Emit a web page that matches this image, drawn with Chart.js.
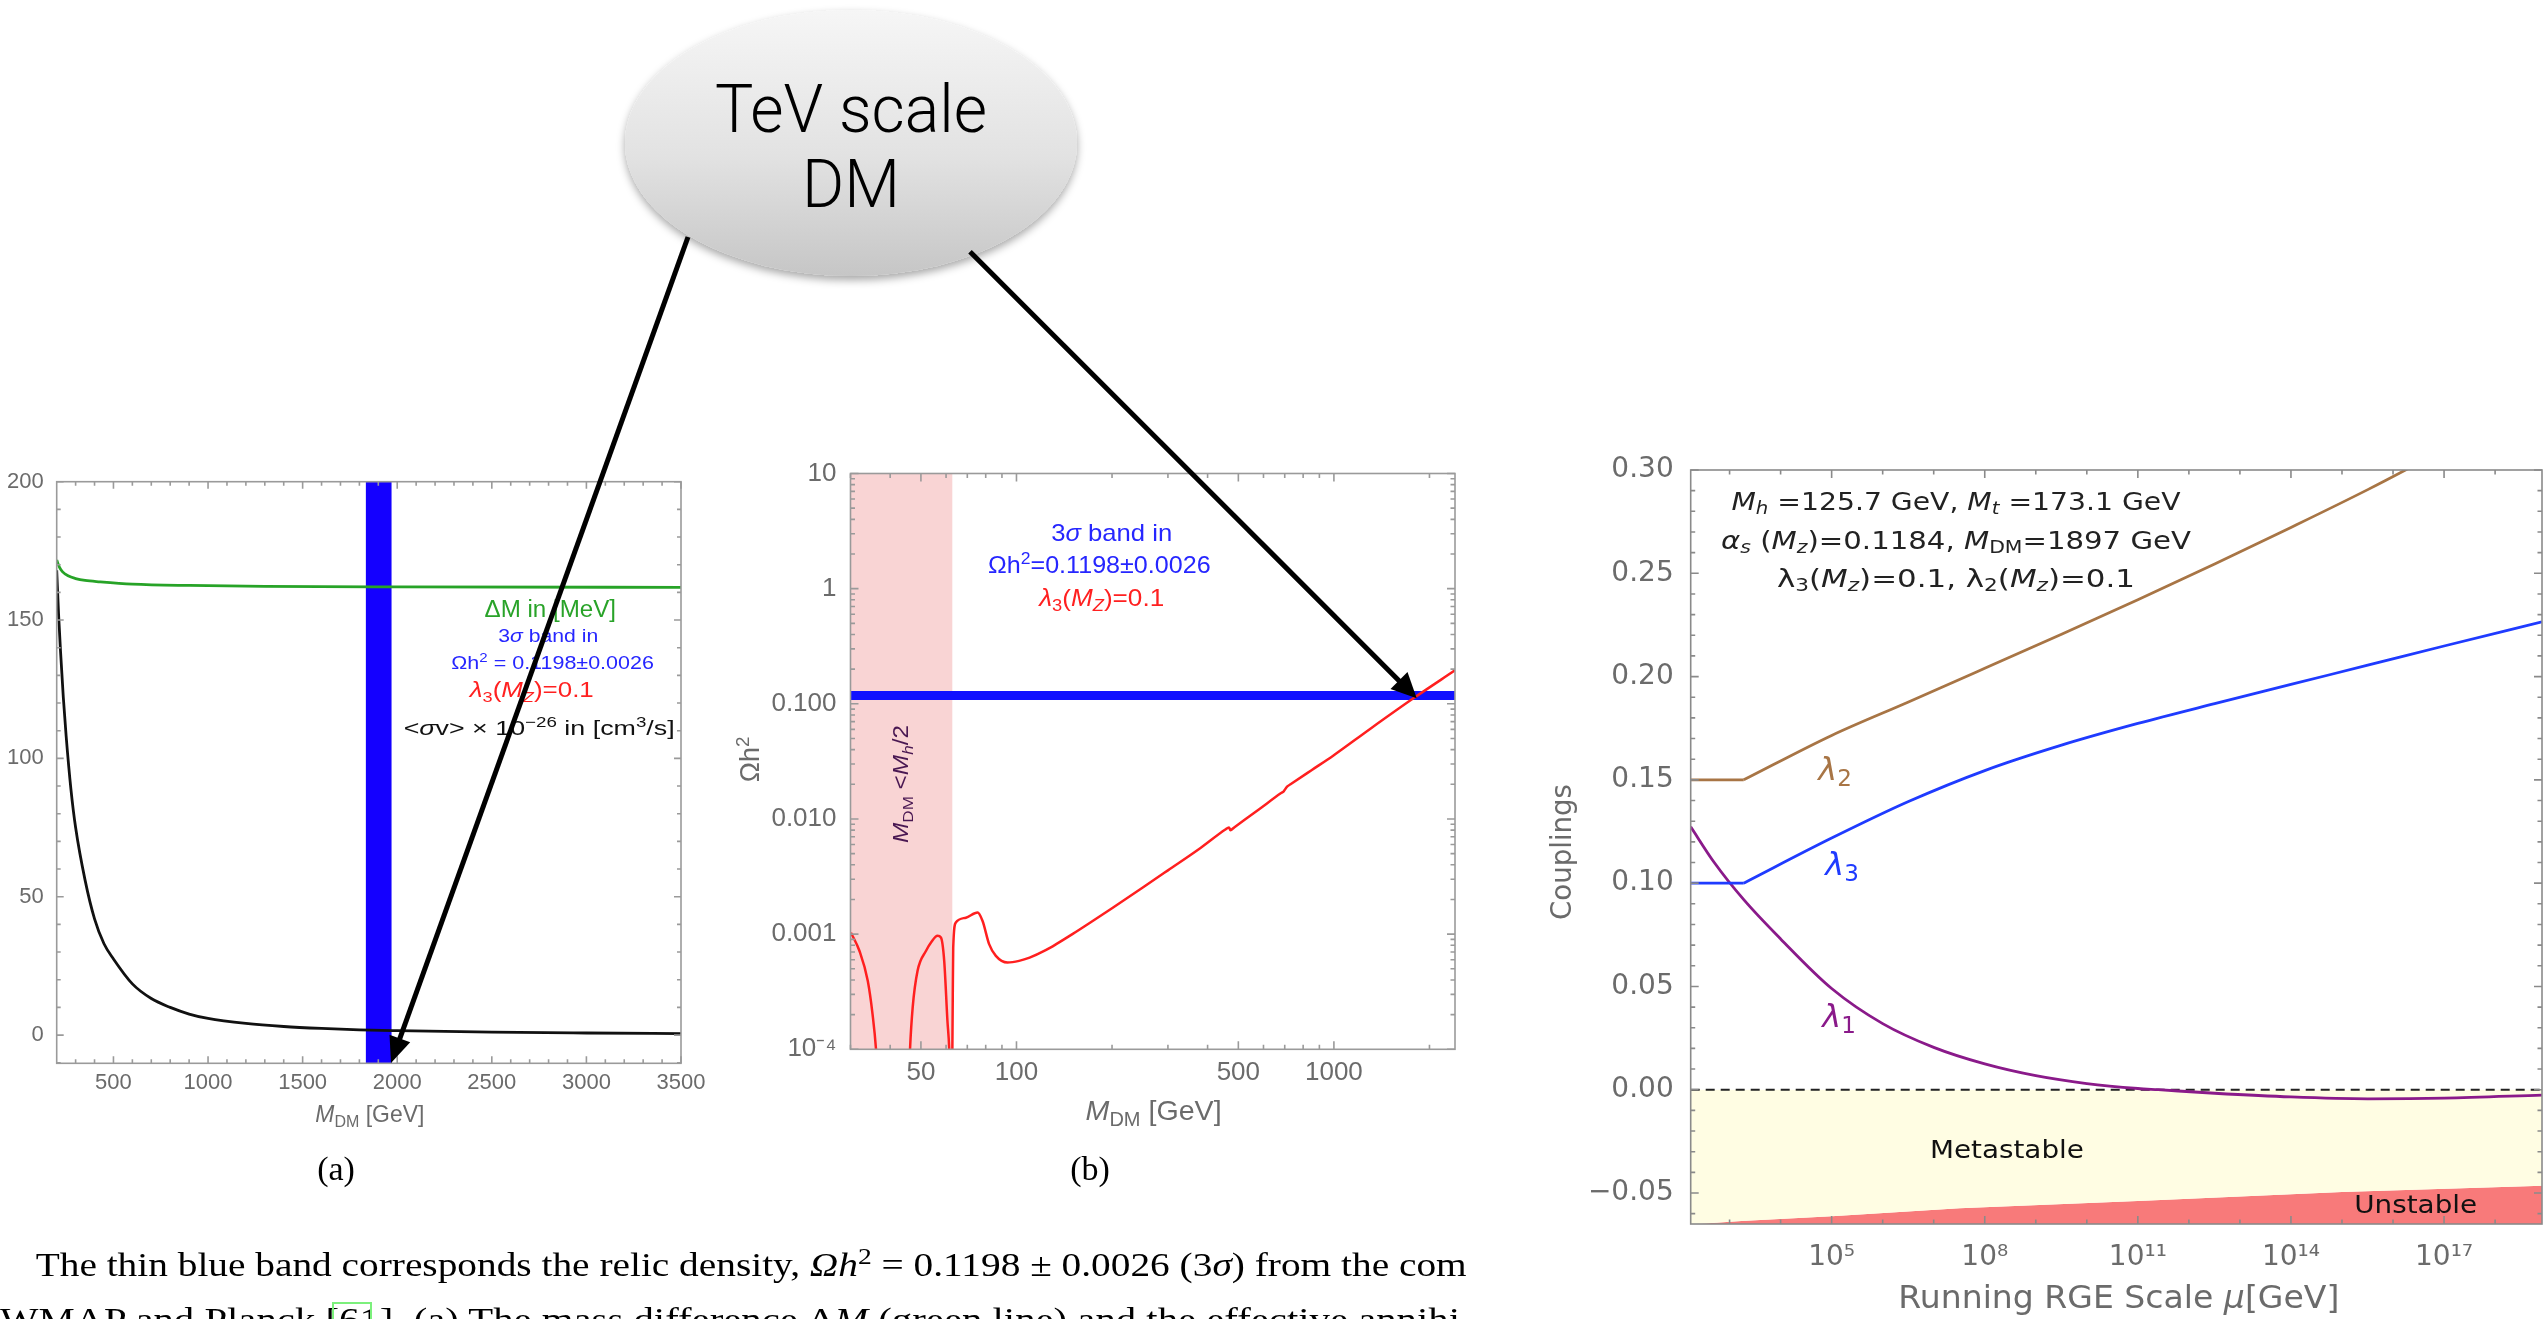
<!DOCTYPE html>
<html>
<head>
<meta charset="utf-8">
<script src="https://cdn.jsdelivr.net/npm/chart.js@4.4.1/dist/chart.umd.min.js"></script>
<style>
  html, body { margin: 0; padding: 0; background: #fff; }
  #page { position: relative; width: 2544px; height: 1319px; overflow: hidden; background: #fff; }
  .layer { position: absolute; left: 0; top: 0; width: 2544px; height: 1319px; }
  #ov { position: absolute; left: 0; top: 0; pointer-events: none; }
  .sa { font-family: "Liberation Sans", Arial, sans-serif; }
  .sc { font-family: "DejaVu Sans", sans-serif; }
  .sf { font-family: "Liberation Serif", "DejaVu Serif", serif; }
  .bub { font-family: Roboto, "Liberation Sans", sans-serif; font-weight: 300; }
</style>
</head>
<body>
<div id="page">
  <div class="layer"><canvas id="chartA"></canvas></div>
  <div class="layer"><canvas id="chartB"></canvas></div>
  <div class="layer"><canvas id="chartC"></canvas></div>

  <svg id="ov" width="2544" height="1319" viewBox="0 0 2544 1319" xmlns="http://www.w3.org/2000/svg">
    <defs>
      <linearGradient id="bubbleFill" x1="0" y1="0" x2="0" y2="1">
        <stop offset="0" stop-color="#f6f6f6"/>
        <stop offset="0.55" stop-color="#e2e2e2"/>
        <stop offset="1" stop-color="#c6c6c6"/>
      </linearGradient>
      <filter id="bubbleShadow" x="-20%" y="-20%" width="140%" height="150%">
        <feDropShadow dx="0" dy="4" stdDeviation="4" flood-color="#000" flood-opacity="0.35"/>
      </filter>
    </defs>

    <!-- callout bubble -->
    <ellipse cx="851" cy="143" rx="226" ry="133" fill="url(#bubbleFill)" filter="url(#bubbleShadow)"/>
    <text class="bub" x="851" y="131.7" font-size="66" text-anchor="middle" textLength="272" lengthAdjust="spacingAndGlyphs" fill="#000">TeV scale</text>
    <text class="bub" x="851" y="206.7" font-size="66" text-anchor="middle" textLength="98" lengthAdjust="spacingAndGlyphs" fill="#000">DM</text>

    <!-- panel (a) labels -->
    <text class="sa" x="369.8" y="1121.6" font-size="24" fill="#6b6b6b" text-anchor="middle" textLength="109" lengthAdjust="spacingAndGlyphs"><tspan font-style="italic">M</tspan><tspan baseline-shift="-5" font-size="70%">DM</tspan> [GeV]</text>
    <text class="sa" x="550.3" y="616.6" font-size="23" fill="#29a329" text-anchor="middle" textLength="131.5" lengthAdjust="spacingAndGlyphs">ΔM in [MeV]</text>
    <text class="sa" x="548.2" y="642.3" font-size="19" fill="#2626ff" text-anchor="middle" textLength="100" lengthAdjust="spacingAndGlyphs">3<tspan font-style="italic">σ</tspan> band in</text>
    <text class="sa" x="552.6" y="669.1" font-size="19" fill="#2626ff" text-anchor="middle" textLength="202.6" lengthAdjust="spacingAndGlyphs">Ωh<tspan baseline-shift="7" font-size="70%">2</tspan> = 0.1198±0.0026</text>
    <text class="sa" x="531.8" y="697" font-size="22" fill="#ff2020" text-anchor="middle" textLength="124" lengthAdjust="spacingAndGlyphs"><tspan font-style="italic">λ</tspan><tspan baseline-shift="-5" font-size="70%">3</tspan>(<tspan font-style="italic">M</tspan><tspan baseline-shift="-5" font-size="70%" font-style="italic">Z</tspan>)=0.1</text>
    <text class="sa" x="539.2" y="734.5" font-size="21" fill="#111" text-anchor="middle" textLength="271" lengthAdjust="spacingAndGlyphs">&lt;<tspan font-style="italic">σ</tspan>v&gt; × 10<tspan baseline-shift="8" font-size="70%">−26</tspan>  in [cm<tspan baseline-shift="8" font-size="70%">3</tspan>/s]</text>

    <!-- panel (b) labels -->
    <text class="sa" transform="translate(749.6,759.3) rotate(-90)" x="0" y="9.7" font-size="27" fill="#6b6b6b" text-anchor="middle">Ωh<tspan baseline-shift="10" font-size="70%">2</tspan></text>
    <text class="sa" x="1153.6" y="1119.8" font-size="28" fill="#6b6b6b" text-anchor="middle" textLength="136" lengthAdjust="spacingAndGlyphs"><tspan font-style="italic">M</tspan><tspan baseline-shift="-6" font-size="70%">DM</tspan> [GeV]</text>
    <text class="sa" x="1111.7" y="540.6" font-size="24" fill="#2626ff" text-anchor="middle" textLength="121" lengthAdjust="spacingAndGlyphs">3<tspan font-style="italic">σ</tspan> band in</text>
    <text class="sa" x="1099.3" y="572.6" font-size="24" fill="#2626ff" text-anchor="middle" textLength="222.6" lengthAdjust="spacingAndGlyphs">Ωh<tspan baseline-shift="9" font-size="70%">2</tspan>=0.1198±0.0026</text>
    <text class="sa" x="1101.7" y="605.6" font-size="24" fill="#ff2020" text-anchor="middle" textLength="125" lengthAdjust="spacingAndGlyphs"><tspan font-style="italic">λ</tspan><tspan baseline-shift="-5" font-size="70%">3</tspan>(<tspan font-style="italic">M</tspan><tspan baseline-shift="-5" font-size="70%" font-style="italic">Z</tspan>)=0.1</text>
    <text class="sa" transform="translate(900.4,784) rotate(-90)" x="0" y="7.9" font-size="22" fill="#4a1852" text-anchor="middle" textLength="118" lengthAdjust="spacingAndGlyphs"><tspan font-style="italic">M</tspan><tspan baseline-shift="-5" font-size="70%">DM</tspan> &lt;<tspan font-style="italic">M</tspan><tspan baseline-shift="-5" font-size="70%" font-style="italic">h</tspan>/2</text>

    <!-- panel (c) labels -->
    <text class="sc" transform="translate(1560.7,852) rotate(-90)" x="0" y="10" font-size="28" fill="#6b6b6b" text-anchor="middle" textLength="136" lengthAdjust="spacingAndGlyphs">Couplings</text>
    <text class="sc" x="2118.8" y="1307.5" font-size="32" fill="#6b6b6b" text-anchor="middle" textLength="441" lengthAdjust="spacingAndGlyphs">Running RGE Scale <tspan font-style="italic">μ</tspan>[GeV]</text>
    <text class="sc" x="1956" y="510.3" font-size="24" fill="#222" text-anchor="middle" textLength="449" lengthAdjust="spacingAndGlyphs"><tspan font-style="italic">M</tspan><tspan baseline-shift="-4" font-size="70%" font-style="italic">h</tspan> =125.7 GeV, <tspan font-style="italic">M</tspan><tspan baseline-shift="-4" font-size="70%" font-style="italic">t</tspan> =173.1 GeV</text>
    <text class="sc" x="1956" y="548.6" font-size="24" fill="#222" text-anchor="middle" textLength="470" lengthAdjust="spacingAndGlyphs"><tspan font-style="italic">α</tspan><tspan baseline-shift="-4" font-size="70%" font-style="italic">s</tspan> (<tspan font-style="italic">M</tspan><tspan baseline-shift="-4" font-size="70%" font-style="italic">z</tspan>)=0.1184, <tspan font-style="italic">M</tspan><tspan baseline-shift="-4" font-size="70%">DM</tspan>=1897 GeV</text>
    <text class="sc" x="1956" y="586.6" font-size="24" fill="#222" text-anchor="middle" textLength="358" lengthAdjust="spacingAndGlyphs">λ<tspan baseline-shift="-4" font-size="70%">3</tspan>(<tspan font-style="italic">M</tspan><tspan baseline-shift="-4" font-size="70%" font-style="italic">z</tspan>)=0.1, λ<tspan baseline-shift="-4" font-size="70%">2</tspan>(<tspan font-style="italic">M</tspan><tspan baseline-shift="-4" font-size="70%" font-style="italic">z</tspan>)=0.1</text>
    <text class="sc" x="1835" y="779.5" font-size="32" fill="#a87545" text-anchor="middle"><tspan font-style="italic">λ</tspan><tspan baseline-shift="-6" font-size="72%">2</tspan></text>
    <text class="sc" x="1842" y="874.5" font-size="32" fill="#1f3bff" text-anchor="middle"><tspan font-style="italic">λ</tspan><tspan baseline-shift="-6" font-size="72%">3</tspan></text>
    <text class="sc" x="1839" y="1026.5" font-size="32" fill="#8a1a8a" text-anchor="middle"><tspan font-style="italic">λ</tspan><tspan baseline-shift="-6" font-size="72%">1</tspan></text>
    <text class="sc" x="2006.9" y="1157.6" font-size="24" fill="#111" text-anchor="middle" textLength="154" lengthAdjust="spacingAndGlyphs">Metastable</text>
    <text class="sc" x="2415.7" y="1212.6" font-size="24" fill="#111" text-anchor="middle" textLength="123" lengthAdjust="spacingAndGlyphs">Unstable</text>

    <!-- sub-figure captions and running text -->
    <text class="sf" x="336" y="1180" font-size="34" fill="#000" text-anchor="middle">(a)</text>
    <text class="sf" x="1090" y="1180" font-size="34" fill="#000" text-anchor="middle">(b)</text>
    <text class="sf" x="35.7" y="1276" font-size="34" fill="#000" textLength="1431" lengthAdjust="spacingAndGlyphs">The thin blue band corresponds the relic density, <tspan font-style="italic">Ωh</tspan><tspan baseline-shift="12" font-size="70%">2</tspan> = 0.1198 ± 0.0026 (3<tspan font-style="italic">σ</tspan>) from the com</text>
    <text class="sf" x="0" y="1331" font-size="34" fill="#000" textLength="1460" lengthAdjust="spacingAndGlyphs">WMAP and Planck [61]. (a) The mass difference Δ<tspan font-style="italic">M</tspan> (green line) and the effective annihi</text>
    <rect x="333" y="1303" width="38" height="30" fill="none" stroke="#7cf07c" stroke-width="2"/>

    <!-- arrows -->
    <g stroke="#000" stroke-width="5" fill="none">
      <line x1="688" y1="237" x2="397.8" y2="1044.2"/>
      <line x1="970" y1="251.7" x2="1403.3" y2="684.9"/>
    </g>
    <polygon points="391,1063 410.2,1042.2 389.5,1034.8" fill="#000"/>
    <polygon points="1416.7,698.3 1390.5,689.1 1407.5,672.1" fill="#000"/>
  </svg>
</div>

<script>
  const W = 2544, H = 1319;

  // ---- (a) <sigma v> x 1e-26 and mass splitting vs M_DM ----
  const aMass = [200, 210, 220, 235, 250, 275, 300, 350, 400, 450, 500, 600, 700, 800, 900, 1000, 1200, 1400, 1600, 1800, 2000, 2500, 3000, 3500];
  const aSigmaV = [168, 152, 139, 122, 108, 89, 75, 56, 42, 33, 27.5, 18.5, 13.2, 10, 7.6, 6, 4.2, 3.1, 2.4, 1.9, 1.6, 1.05, 0.75, 0.55];
  const aMassGreen = [200, 215, 230, 260, 300, 350, 430, 600, 900, 1300, 2000, 3500];
  const aDeltaM = [171.7, 169, 167.5, 166, 165, 164.3, 163.8, 163, 162.5, 162.2, 162, 161.8];
  const aBandMass = [1833, 1971];
  const aXTicks = [500, 1000, 1500, 2000, 2500, 3000, 3500];
  const aYTicks = [0, 50, 100, 150, 200];

  // ---- (b) relic density vs M_DM (null = below the plotted range) ----
  const bMass = [30.1, 32, 34, 35.2, 36.1, 36.6, 40, 45.8, 46.2, 47.1, 48.8, 51.9, 54, 56.4, 57.8, 59.2, 60.6, 61.4, 61.8, 62.2,
    62.7, 63.0, 63.2, 64.4, 69.3, 75.4, 78.2, 82, 86.1, 93.7, 101.9, 110, 123.6, 135, 150, 170, 200, 250, 300, 380, 455, 467,
    472, 485, 580, 680, 695, 712, 730, 850, 997, 1300, 1780, 2407];
  const bOmega = [0.00103, 0.000717, 0.000393, 0.000202, 0.0001, 0.00005, null, 0.00005, 0.0001, 0.000231, 0.00048, 0.000717, 0.00086, 0.000967, 0.000934, 0.000586, 0.000177, 0.0001, 0.00005, null,
    0.00005, 0.0003, 0.000765, 0.00126, 0.00139, 0.00154, 0.0013, 0.000819, 0.000648, 0.000567, 0.000586, 0.000625, 0.000725, 0.000835, 0.00100, 0.00125, 0.00168, 0.00254, 0.00358, 0.0056, 0.0081, 0.00845,
    0.0080, 0.00845, 0.0121, 0.0167, 0.0174, 0.0191, 0.0200, 0.0265, 0.0356, 0.0605, 0.1116, 0.1952];
  const bBand = [0.108, 0.129];
  const bExcluded = [30, 62.9];
  const bXRange = [30, 2407];
  const bXTicks = [50, 100, 500, 1000];
  const bXLabels = ['50', '100', '500', '1000'];
  const bXMinor = [30, 40, 60, 70, 80, 90, 200, 300, 400, 600, 700, 800, 900, 2000];
  const bYTicks = [1e-4, 1e-3, 1e-2, 0.1, 1, 10];
  const bYLabels = ['10⁻⁴', '0.001', '0.010', '0.100', '1', '10'];

  // ---- (c) running couplings (first two points: flat below M_DM) ----
  const cRange = [173.1, 8.3e18];
  const cMuL2 = [173.1, 1897, 1e5, 3.2e6, 1e8, 3.2e9, 1e11, 3.2e12, 1e14, 3.2e15, 2.5e16, 1e17];
  const cLambda2 = [0.150, 0.150, 0.1715, 0.1877, 0.2040, 0.2205, 0.2372, 0.2545, 0.2722, 0.2905, 0.3020, 0.3100];
  const cMuL3 = [173.1, 1897, 1e5, 3.2e6, 1e8, 3.2e9, 1e11, 3.2e12, 1e14, 3.2e15, 1e17, 8.3e18];
  const cLambda3 = [0.100, 0.100, 0.1218, 0.1395, 0.1545, 0.1668, 0.1773, 0.1869, 0.1962, 0.2055, 0.2148, 0.2265];
  const cMuL1 = [173.1, 501, 1897, 1e4, 1e5, 1e6, 1e7, 1e8, 1e9, 1e10, 1e11, 2.5e11, 3.2e12, 1e14, 3.2e15, 1e17, 8.3e18];
  const cLambda1 = [0.1273, 0.1100, 0.0920, 0.0730, 0.0490, 0.0320, 0.0205, 0.0125, 0.0068, 0.0030, 0.0006, 0, -0.0017, -0.0035, -0.0044, -0.0041, -0.0026];
  const cMuStab = [173.1, 1.7e3, 1e5, 3.2e7, 1.3e11, 1e15, 8.3e18];
  const cStab = [-0.0652, -0.0636, -0.0613, -0.0574, -0.0537, -0.0495, -0.0465];
  const cXTicks = [1e5, 1e8, 1e11, 1e14, 1e17];
  const cXLabels = ['10⁵', '10⁸', '10¹¹', '10¹⁴', '10¹⁷'];
  const cXMinor = [1e3, 1e4, 1e6, 1e7, 1e9, 1e10, 1e12, 1e13, 1e15, 1e16, 1e18];
  const cYTicks = [-0.05, 0, 0.05, 0.10, 0.15, 0.20, 0.25, 0.30];
  const cYLabels = ['−0.05', '0.00', '0.05', '0.10', '0.15', '0.20', '0.25', '0.30'];

  const tickGray = '#6b6b6b';

  function pts(xs, ys) {
    return xs.map((x, i) => ({ x: x, y: ys[i] }));
  }

  function range(from, to, step, skip) {
    const out = [];
    for (let v = from; v <= to + step * 1e-6; v += step) {
      const r = +v.toFixed(6);
      if (!skip.some(s => Math.abs(s - r) < step * 1e-3)) out.push(r);
    }
    return out;
  }

  function decadeMinor(d0, d1) {
    const out = [];
    for (let d = d0; d <= d1; d++) for (let k = 2; k <= 9; k++) out.push(k * Math.pow(10, d));
    return out;
  }

  function labelFor(vals, labels) {
    return v => {
      const i = vals.findIndex(t => Math.abs(t - v) <= Math.abs(t) * 1e-6 + 1e-12);
      return i < 0 ? '' : labels[i];
    };
  }

  // frame with inward ticks on all four sides, like the original plots
  const frameTicks = {
    id: 'frameTicks',
    afterDatasetsDraw(chart, args, o) {
      const { ctx, chartArea: a } = chart;
      const sx = chart.scales.x, sy = chart.scales.y;
      ctx.save();
      ctx.strokeStyle = o.color;
      ctx.lineWidth = o.width;
      ctx.beginPath();
      const xt = (vals, len) => vals.forEach(v => {
        const p = sx.getPixelForValue(v);
        if (p < a.left - 0.5 || p > a.right + 0.5) return;
        ctx.moveTo(p, a.bottom); ctx.lineTo(p, a.bottom - len);
        ctx.moveTo(p, a.top); ctx.lineTo(p, a.top + len);
      });
      const yt = (vals, len) => vals.forEach(v => {
        const p = sy.getPixelForValue(v);
        if (p < a.top - 0.5 || p > a.bottom + 0.5) return;
        ctx.moveTo(a.left, p); ctx.lineTo(a.left + len, p);
        ctx.moveTo(a.right, p); ctx.lineTo(a.right - len, p);
      });
      xt(o.xMajor, o.major); xt(o.xMinor, o.minor);
      yt(o.yMajor, o.major); yt(o.yMinor, o.minor);
      ctx.stroke();
      ctx.strokeRect(a.left, a.top, a.right - a.left, a.bottom - a.top);
      ctx.restore();
    }
  };

  function axis(opts) {
    return {
      type: opts.type,
      position: opts.position,
      min: opts.min,
      max: opts.max,
      grid: { display: false },
      border: { display: false },
      ticks: {
        autoSkip: false, maxRotation: 0, minRotation: 0,
        padding: opts.pad,
        color: tickGray,
        font: { family: opts.family, size: opts.size, lineHeight: 1.2 },
        callback: labelFor(opts.ticks, opts.labels)
      },
      afterBuildTicks: s => { s.ticks = opts.ticks.map(v => ({ value: v })); },
      afterFit: s => {
        if (opts.position === 'left') s.width = opts.fit; else s.height = opts.fit;
      }
    };
  }

  function makeChart(id, box, scales, datasets, frame) {
    return new Chart(document.getElementById(id), {
      type: 'line',
      data: { datasets: datasets },
      options: {
        responsive: true,
        maintainAspectRatio: false,
        animation: false,
        events: [],
        layout: {
          padding: {
            left: box.left - box.yw,
            top: box.top,
            right: W - box.right,
            bottom: H - box.bottom - box.xh
          }
        },
        elements: { point: { radius: 0 }, line: { borderJoinStyle: 'round' } },
        plugins: { legend: { display: false }, tooltip: { enabled: false }, frameTicks: frame },
        scales: scales
      },
      plugins: [frameTicks]
    });
  }

  function curve(xs, ys, color, width) {
    return { data: pts(xs, ys), borderColor: color, borderWidth: width, cubicInterpolationMode: 'monotone', spanGaps: false, fill: false };
  }

  // (a)
  makeChart('chartA',
    { left: 56.7, top: 481.7, right: 681, bottom: 1063.3, yw: 50, xh: 60 },
    {
      x: axis({ type: 'linear', position: 'bottom', min: 200, max: 3500, ticks: aXTicks, labels: aXTicks.map(String), family: 'Liberation Sans', size: 22, pad: -1.5, fit: 60 }),
      y: axis({ type: 'linear', position: 'left', min: -10.2, max: 200, ticks: aYTicks, labels: aYTicks.map(String), family: 'Liberation Sans', size: 22, pad: 5, fit: 50 })
    },
    [
      curve(aMass, aSigmaV, '#111111', 2.8),
      curve(aMassGreen, aDeltaM, '#27a327', 2.8),
      { data: pts(aBandMass, [200, 200]), borderWidth: 0, borderColor: 'rgba(0,0,0,0)', backgroundColor: '#1400ff', fill: 'start' }
    ],
    { xMajor: aXTicks, xMinor: range(300, 3400, 100, aXTicks), yMajor: aYTicks, yMinor: range(-10, 190, 10, aYTicks), color: '#9a9a9a', width: 1.6, major: 7, minor: 4 }
  );

  // (b)
  makeChart('chartB',
    { left: 850.5, top: 473.5, right: 1455, bottom: 1049.3, yw: 80, xh: 60 },
    {
      x: axis({ type: 'logarithmic', position: 'bottom', min: bXRange[0], max: bXRange[1], ticks: bXTicks, labels: bXLabels, family: 'Liberation Sans', size: 26, pad: 0, fit: 60 }),
      y: axis({ type: 'logarithmic', position: 'left', min: 1e-4, max: 10, ticks: bYTicks, labels: bYLabels, family: 'Liberation Sans', size: 26, pad: 6, fit: 80 })
    },
    [
      curve(bMass, bOmega, '#ff1f1f', 2.5),
      { data: pts(bXRange, [bBand[1], bBand[1]]), borderWidth: 0, borderColor: 'rgba(0,0,0,0)', backgroundColor: '#1010ff', fill: { value: bBand[0] } },
      { data: pts(bExcluded, [10, 10]), borderWidth: 0, borderColor: 'rgba(0,0,0,0)', backgroundColor: '#f9d4d4', fill: 'start' }
    ],
    { xMajor: bXTicks, xMinor: bXMinor, yMajor: bYTicks, yMinor: decadeMinor(-4, 0), color: '#9a9a9a', width: 1.6, major: 8, minor: 4.5 }
  );

  // (c) -- the flat part below M_DM and the running part are separate pieces so the kink stays sharp
  makeChart('chartC',
    { left: 1690.7, top: 470, right: 2542, bottom: 1224, yw: 100, xh: 60 },
    {
      x: axis({ type: 'logarithmic', position: 'bottom', min: cRange[0], max: cRange[1], ticks: cXTicks, labels: cXLabels, family: 'DejaVu Sans', size: 28, pad: 9, fit: 60 }),
      y: axis({ type: 'linear', position: 'left', min: -0.065, max: 0.30, ticks: cYTicks, labels: cYLabels, family: 'DejaVu Sans', size: 28, pad: 9, fit: 100 })
    },
    [
      curve(cMuL2.slice(0, 2), cLambda2.slice(0, 2), '#a87545', 2.8),
      curve(cMuL2.slice(1), cLambda2.slice(1), '#a87545', 2.8),
      curve(cMuL3.slice(0, 2), cLambda3.slice(0, 2), '#1f3bff', 2.8),
      curve(cMuL3.slice(1), cLambda3.slice(1), '#1f3bff', 2.8),
      curve(cMuL1, cLambda1, '#8a1a8a', 2.8),
      { data: pts(cRange, [0, 0]), borderColor: '#222222', borderWidth: 2, borderDash: [9, 6], fill: false },
      { data: pts(cMuStab, cStab), borderWidth: 0, borderColor: 'rgba(0,0,0,0)', backgroundColor: '#fffde3', fill: { value: 0 } },
      { data: pts(cMuStab, cStab), borderWidth: 0, borderColor: 'rgba(0,0,0,0)', backgroundColor: '#f87a7a', fill: 'start' }
    ],
    { xMajor: cXTicks, xMinor: cXMinor, yMajor: cYTicks, yMinor: range(-0.06, 0.29, 0.01, cYTicks), color: '#8a8a8a', width: 1.6, major: 8, minor: 4.5 }
  );
</script>
</body>
</html>
